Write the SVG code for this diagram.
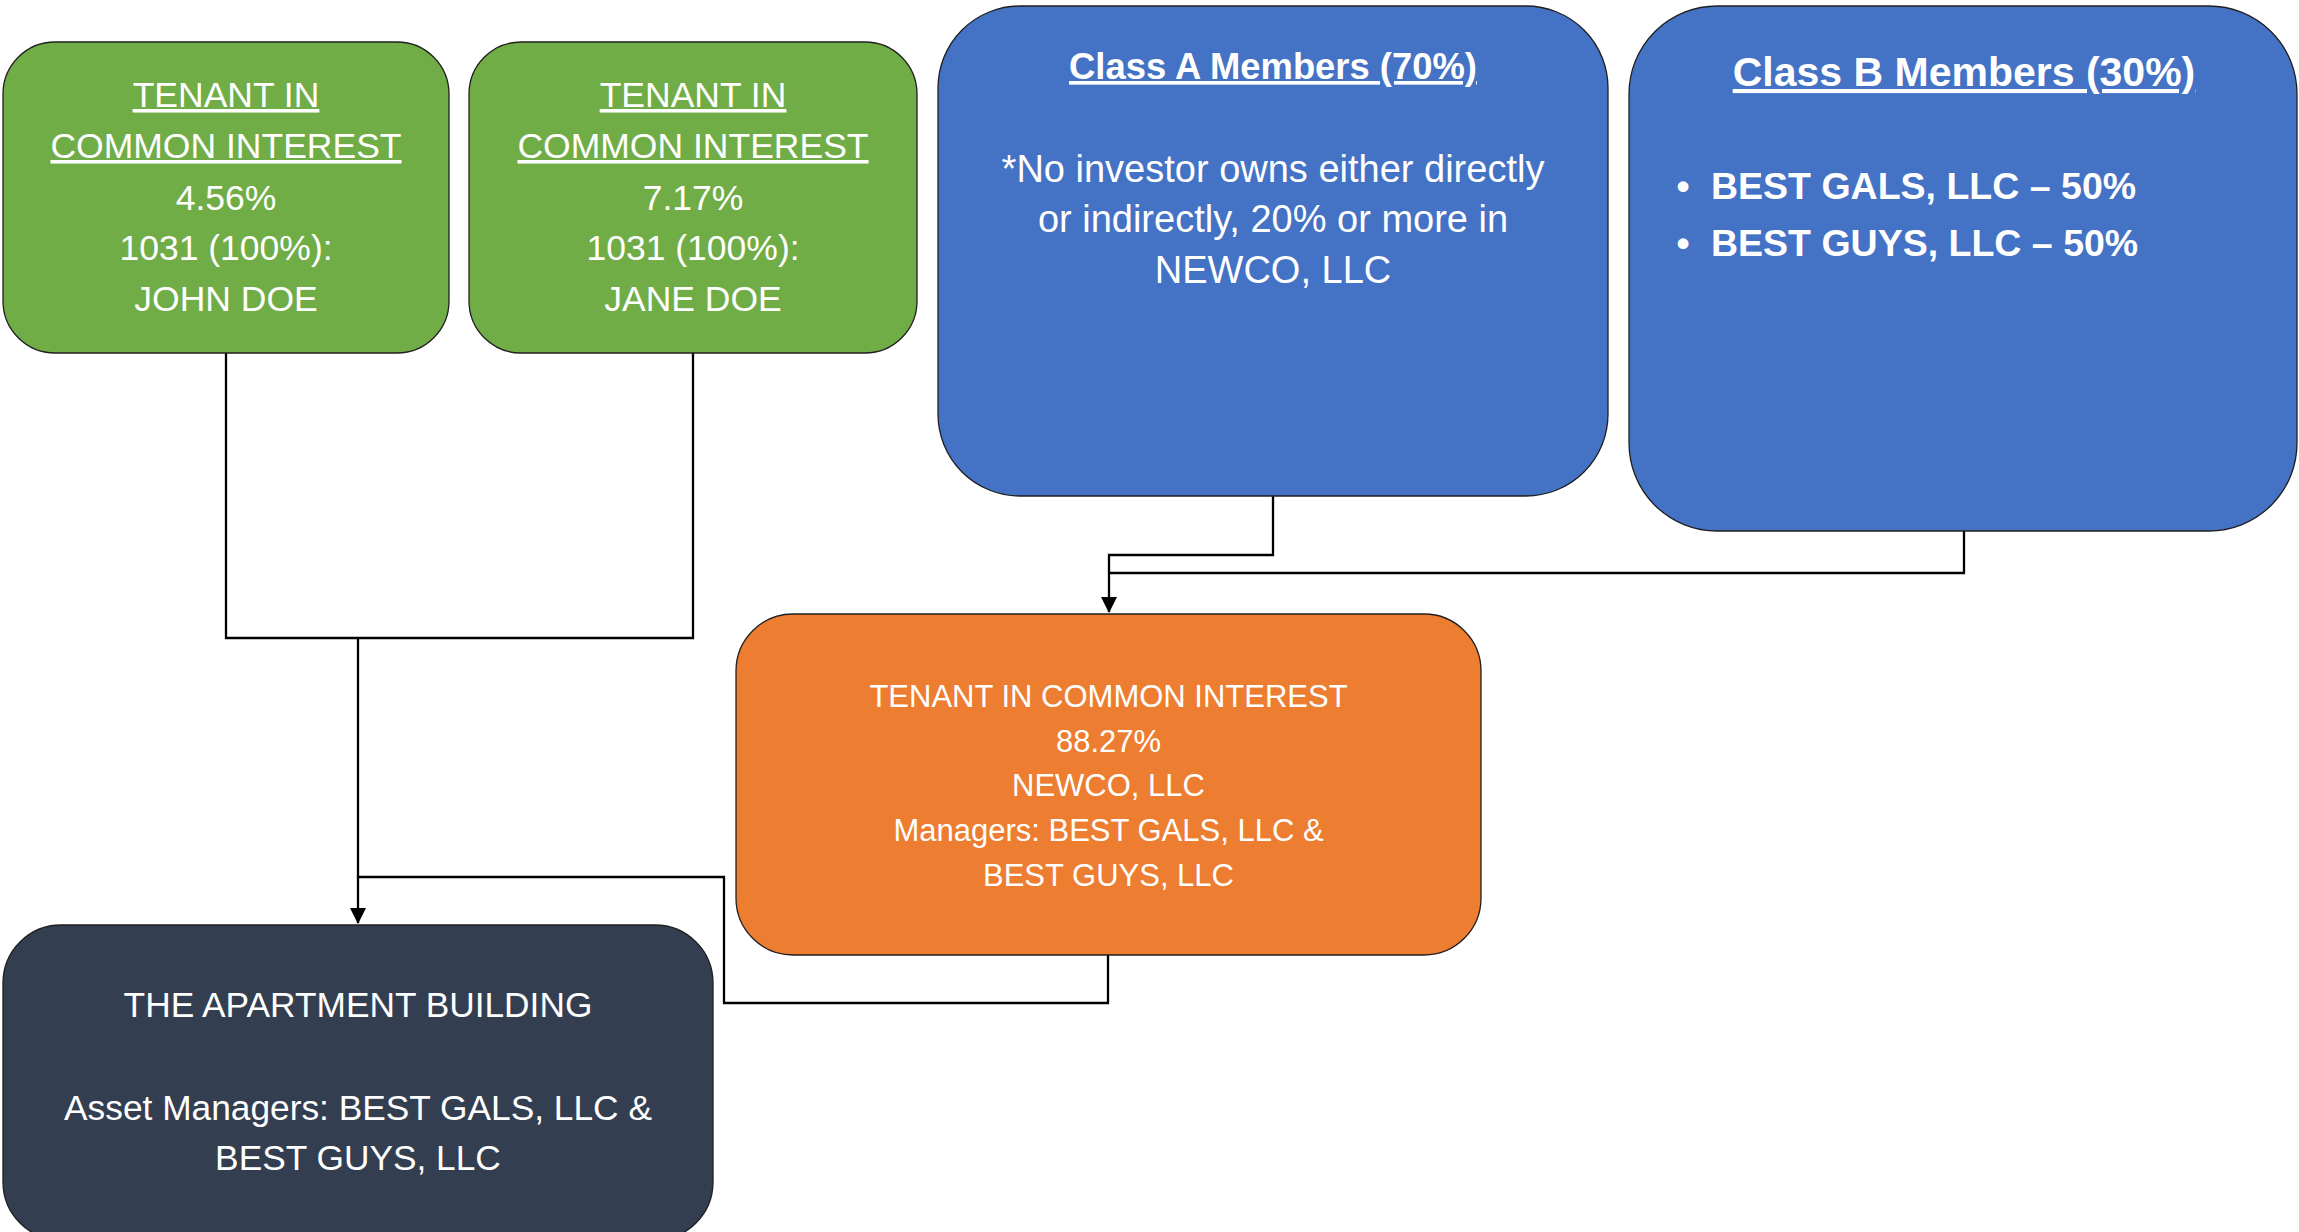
<svg xmlns="http://www.w3.org/2000/svg" width="2299" height="1232" viewBox="0 0 2299 1232">
<style>
.box{stroke:#1f1f1f;stroke-width:1.3}
.g{fill:#70AD47}
.b{fill:#4472C4}
.o{fill:#ED7D31}
.d{fill:#333F50}
text{font-family:"Liberation Sans",Arial,sans-serif;fill:#ffffff;text-anchor:middle}
.t1{font-size:35.5px}
.ta{font-size:38px}
.to{font-size:31px}
.td{font-size:35.3px}
.u{text-decoration:underline}
.bold{font-weight:bold}
.conn{fill:none;stroke:#000;stroke-width:2.3}
</style>
<defs>
<marker id="arr" markerUnits="userSpaceOnUse" markerWidth="16" markerHeight="16" viewBox="0 0 16 16" refX="15" refY="8" orient="auto">
<path d="M0,0 L16,8 L0,16 Z" fill="#000"/>
</marker>
</defs>
<g id="connectors">
<path class="conn" d="M226,353 V638 H693 V353"/>
<path class="conn" d="M358,638 V923" marker-end="url(#arr)"/>
<path class="conn" d="M1108,955 V1003 H724 V877 H358"/>
<path class="conn" d="M1273,496 V555 H1109 V612" marker-end="url(#arr)"/>
<path class="conn" d="M1964,531 V573 H1109"/>
</g>
<g id="tic-john">
<rect class="box g" x="3" y="42" width="446" height="311" rx="52"/>
<text class="t1 u" x="226" y="107">TENANT IN</text>
<text class="t1 u" x="226" y="158">COMMON INTEREST</text>
<text class="t1" x="226" y="210">4.56%</text>
<text class="t1" x="226" y="260">1031 (100%):</text>
<text class="t1" x="226" y="311">JOHN DOE</text>
</g>
<g id="tic-jane">
<rect class="box g" x="469" y="42" width="448" height="311" rx="52"/>
<text class="t1 u" x="693" y="107">TENANT IN</text>
<text class="t1 u" x="693" y="158">COMMON INTEREST</text>
<text class="t1" x="693" y="210">7.17%</text>
<text class="t1" x="693" y="260">1031 (100%):</text>
<text class="t1" x="693" y="311">JANE DOE</text>
</g>
<g id="class-a">
<rect class="box b" x="938" y="6" width="670" height="490" rx="82"/>
<text class="bold u" style="font-size:36.4px" x="1273" y="79">Class A Members (70%)</text>
<text class="ta" x="1273" y="182">*No investor owns either directly</text>
<text class="ta" x="1273" y="232">or indirectly, 20% or more in</text>
<text class="ta" x="1273" y="283">NEWCO, LLC</text>
</g>
<g id="class-b">
<rect class="box b" x="1629" y="6" width="668" height="525" rx="88"/>
<text class="bold u" style="font-size:41px" x="1964" y="86">Class B Members (30%)</text>
<text class="bold" style="font-size:37.5px;text-anchor:middle" x="1683" y="199">•</text>
<text class="bold" style="font-size:37.5px;text-anchor:start" x="1711" y="199">BEST GALS, LLC – 50%</text>
<text class="bold" style="font-size:37.5px;text-anchor:middle" x="1683" y="256">•</text>
<text class="bold" style="font-size:37.5px;text-anchor:start" x="1711" y="256">BEST GUYS, LLC – 50%</text>
</g>
<g id="newco">
<rect class="box o" x="736" y="614" width="745" height="341" rx="57"/>
<text class="to" x="1108.5" y="707">TENANT IN COMMON INTEREST</text>
<text class="to" x="1108.5" y="752">88.27%</text>
<text class="to" x="1108.5" y="796">NEWCO, LLC</text>
<text class="to" x="1108.5" y="841">Managers: BEST GALS, LLC &amp;</text>
<text class="to" x="1108.5" y="886">BEST GUYS, LLC</text>
</g>
<g id="apartment">
<rect class="box d" x="3" y="925" width="710" height="315" rx="58"/>
<text class="td" x="358" y="1017">THE APARTMENT BUILDING</text>
<text class="td" x="358" y="1120">Asset Managers: BEST GALS, LLC &amp;</text>
<text class="td" x="358" y="1170">BEST GUYS, LLC</text>
</g>
</svg>
